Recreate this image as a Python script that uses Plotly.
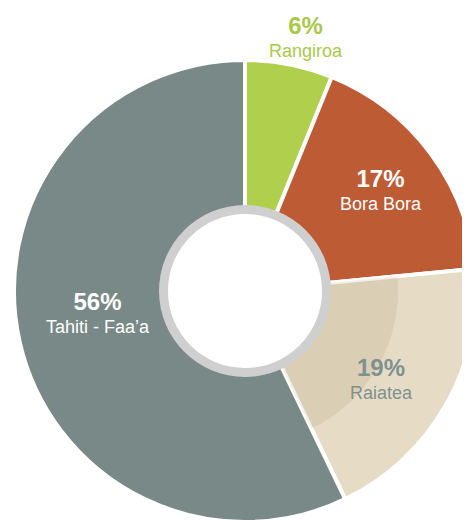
import plotly.graph_objects as go

airports = ['Rangiroa', 'Bora Bora', 'Raiatea', 'Tahiti - Faa\u2019a']
shares = [6, 17, 19, 56]

colors = ['#AFCF4D', '#BD5B35', '#E6DCC5', '#798987']
text_colors = ['#A9C94B', '#FFFFFF', '#7F918F', '#FFFFFF']
# where each label block sits, in page px (x from left, y from top)
label_pos = [(306, 36), (381, 189), (381, 378), (98, 312)]

W, H = 470, 522
# the page keeps its default 8px margin, so the figure sits 8px in from the window corner
OFF = 8
CX, CY = 237, 239   # centre in px (from left, from bottom)
R = 231


def dom(r):
    return dict(x=[max(0, (CX - r) / W), min(1, (CX + r) / W)],
                y=[max(0, (CY - r) / H), min(1, (CY + r) / H)])


fig = go.Figure()

fig.add_trace(go.Pie(
    labels=airports, values=shares, sort=False, direction='clockwise',
    hole=80 / R, domain=dom(R),
    marker=dict(colors=colors, line=dict(color='white', width=4)),
    textinfo='none', hoverinfo='skip', showlegend=False,
))

# darker band on the inner part of Raiatea
shade = ['rgba(0,0,0,0)', 'rgba(0,0,0,0)', 'rgba(120,95,50,0.10)', 'rgba(0,0,0,0)']
fig.add_trace(go.Pie(
    labels=airports, values=shares, sort=False, direction='clockwise',
    hole=84 / 153, domain=dom(153),
    marker=dict(colors=shade, line=dict(width=0)),
    textinfo='none', hoverinfo='skip', showlegend=False,
))

# grey ring round the hole
fig.add_trace(go.Pie(
    values=[1], hole=77 / 86, domain=dom(86), sort=False,
    marker=dict(colors=['#CFCFCF'], line=dict(width=0)),
    textinfo='none', hoverinfo='skip', showlegend=False,
))

for name, val, col, (px, py) in zip(airports, shares, text_colors, label_pos):
    fig.add_annotation(
        x=(px - OFF) / W, y=1 - (py - OFF) / H, xref='paper', yref='paper',
        text=f'<span style="font-size:24px"><b>{val}%</b></span><br>{name}',
        showarrow=False, xanchor='center', yanchor='middle', align='center',
        font=dict(family='Liberation Sans, Arial', size=18, color=col),
    )

fig.update_layout(
    width=W, height=H,
    margin=dict(l=0, r=0, t=0, b=0),
    paper_bgcolor='white', plot_bgcolor='white',
)

fig.write_html("out.html", config={'displayModeBar': False})
